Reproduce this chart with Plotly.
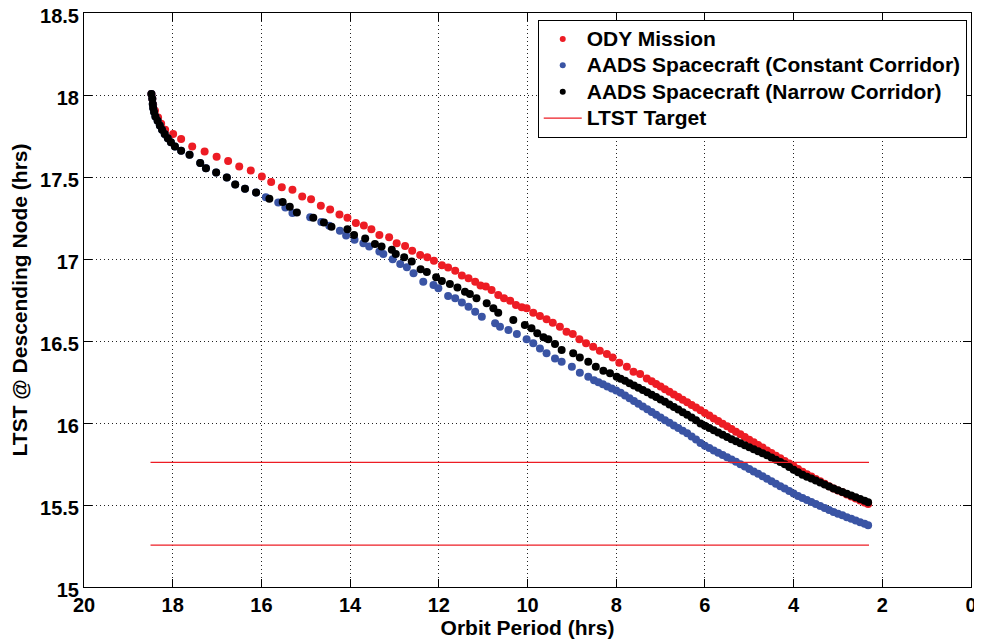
import plotly.graph_objects as go

# ---------------- data ----------------
period_ody = [18.48, 18.46, 18.44, 18.40, 18.33, 18.26, 18.17, 17.99, 17.81, 17.56,
              17.28, 17.01, 16.75, 16.50, 16.24, 15.99, 15.78, 15.54, 15.30, 15.08,
              14.88, 14.66, 14.45, 14.24, 14.06, 13.87, 13.69, 13.52, 13.34, 13.12,
              12.95, 12.76, 12.60, 12.42, 12.26, 12.11, 11.93, 11.79, 11.63, 11.48,
              11.33, 11.18, 11.06, 10.94, 10.81, 10.66, 10.53, 10.39, 10.26, 10.13,
              10.02, 9.87, 9.72, 9.57, 9.43, 9.27, 9.12, 8.98, 8.83, 8.68,
              8.52, 8.37, 8.21, 8.08, 7.93, 7.76, 7.61, 7.46, 7.31,
              7.2, 7.1, 7.0, 6.9, 6.8, 6.7, 6.6, 6.5, 6.4, 6.3, 6.2, 6.1, 6.0,
              5.9, 5.8, 5.7, 5.6, 5.5, 5.4, 5.3, 5.2, 5.1, 5.0, 4.9, 4.8, 4.7,
              4.6, 4.5, 4.4, 4.3, 4.2, 4.1, 4.0, 3.9, 3.8, 3.7, 3.6, 3.5, 3.4,
              3.3, 3.2, 3.1, 3.0, 2.9, 2.8, 2.7, 2.6, 2.5, 2.4, 2.32]
ltst_ody = [18.006, 17.977, 17.941, 17.904, 17.863, 17.825, 17.788, 17.762, 17.731, 17.686,
            17.656, 17.623, 17.597, 17.564, 17.540, 17.503, 17.469, 17.438, 17.422, 17.381,
            17.365, 17.324, 17.302, 17.271, 17.251, 17.219, 17.204, 17.181, 17.147, 17.133,
            17.096, 17.080, 17.051, 17.025, 17.011, 16.990, 16.962, 16.948, 16.929, 16.899,
            16.883, 16.862, 16.838, 16.832, 16.811, 16.781, 16.761, 16.746, 16.720, 16.706,
            16.700, 16.673, 16.653, 16.632, 16.612, 16.587, 16.557, 16.543, 16.510, 16.486,
            16.465, 16.441, 16.421, 16.400, 16.368, 16.343, 16.313, 16.299, 16.272,
            16.254, 16.238, 16.222, 16.206, 16.190, 16.174, 16.158, 16.142, 16.126, 16.110,
            16.094, 16.077, 16.061,
            16.045, 16.028, 16.012, 15.996, 15.980, 15.963, 15.947, 15.931, 15.915, 15.898,
            15.882, 15.866, 15.850,
            15.833, 15.817, 15.801, 15.785, 15.769, 15.753, 15.736, 15.719, 15.703, 15.688,
            15.674, 15.659, 15.645,
            15.630, 15.615, 15.601, 15.589, 15.577, 15.564, 15.552, 15.540, 15.528, 15.515, 15.506]

period_const = [18.48, 18.46, 18.45, 18.44, 18.42, 18.39, 18.34, 18.29, 18.24, 18.18,
                18.11, 18.04, 17.95, 17.81, 17.62, 17.38, 17.25, 17.02, 16.78, 16.59,
                16.37, 16.12, 15.90, 15.62, 15.46, 15.30, 14.90, 14.65, 14.47, 14.23,
                14.09, 13.90, 13.70, 13.57, 13.34, 13.25, 13.04, 12.87, 12.72, 12.57,
                12.35, 12.12, 12.01, 11.79, 11.63, 11.48, 11.33, 11.18, 11.03, 10.73,
                10.62, 10.43, 10.24, 10.02, 9.87, 9.72, 9.57, 9.38, 9.23, 9.00,
                8.82, 8.63,
                8.5, 8.4, 8.3, 8.2, 8.1, 8.0, 7.9, 7.8, 7.7, 7.6, 7.5, 7.4, 7.3,
                7.2, 7.1, 7.0, 6.9, 6.8, 6.7, 6.6, 6.5, 6.4, 6.3, 6.2, 6.1, 6.0,
                5.9, 5.8, 5.7, 5.6, 5.5, 5.4, 5.3, 5.2, 5.1, 5.0, 4.9, 4.8, 4.7,
                4.6, 4.5, 4.4, 4.3, 4.2, 4.1, 4.0, 3.9, 3.8, 3.7, 3.6, 3.5, 3.4,
                3.3, 3.2, 3.1, 3.0, 2.9, 2.8, 2.7, 2.6, 2.5, 2.4, 2.32]
ltst_const = [18.006, 17.977, 17.945, 17.921, 17.896, 17.869, 17.843, 17.814, 17.788, 17.762,
              17.737, 17.712, 17.686, 17.660, 17.636, 17.585, 17.554, 17.527, 17.497, 17.454,
              17.428, 17.405, 17.377, 17.344, 17.314, 17.280, 17.255, 17.225, 17.202, 17.173,
              17.143, 17.118, 17.096, 17.076, 17.045, 17.031, 16.999, 16.970, 16.950, 16.913,
              16.862, 16.842, 16.822, 16.775, 16.761, 16.734, 16.709, 16.679, 16.648, 16.608,
              16.587, 16.567, 16.543, 16.510, 16.486, 16.455, 16.425, 16.394, 16.374, 16.343,
              16.306, 16.282,
              16.261, 16.248, 16.236, 16.223, 16.210, 16.198, 16.184, 16.168, 16.151, 16.134,
              16.117, 16.101, 16.084,
              16.067, 16.050, 16.033, 16.017, 16.001, 15.985, 15.969, 15.953, 15.937, 15.917,
              15.899, 15.878, 15.862,
              15.847, 15.833, 15.819, 15.805, 15.791, 15.778, 15.764, 15.749, 15.734, 15.720,
              15.705, 15.690, 15.675,
              15.660, 15.645, 15.630, 15.615, 15.600, 15.585, 15.570, 15.555, 15.542, 15.530,
              15.518, 15.506, 15.494,
              15.482, 15.470, 15.458, 15.447, 15.437, 15.426, 15.416, 15.405, 15.395, 15.385, 15.377]

period_narrow = [18.48, 18.46, 18.45, 18.44, 18.42, 18.39, 18.34, 18.29, 18.24, 18.18,
                 18.11, 18.04, 17.95, 17.81, 17.62, 17.38, 17.25, 17.02, 16.78, 16.59,
                 16.37, 16.12, 15.82, 15.52, 15.36, 15.20, 14.83, 14.59, 14.42, 14.06,
                 13.91, 13.66, 13.44, 13.29, 13.06, 12.97, 12.78, 12.61, 12.41, 12.27,
                 12.06, 11.93, 11.75, 11.58, 11.41, 11.30, 11.15, 10.92, 10.77, 10.66,
                 10.32, 10.06, 9.91, 9.78, 9.64, 9.53, 9.38, 9.23, 8.97, 8.82,
                 8.63, 8.46, 8.29, 8.14, 7.99,
                 7.9, 7.8, 7.7, 7.6, 7.5, 7.4, 7.3,
                 7.2, 7.1, 7.0, 6.9, 6.8, 6.7, 6.6, 6.5, 6.4, 6.3, 6.2, 6.1, 6.0,
                 5.9, 5.8, 5.7, 5.6, 5.5, 5.4, 5.3, 5.2, 5.1, 5.0, 4.9, 4.8, 4.7,
                 4.6, 4.5, 4.4, 4.3, 4.2, 4.1, 4.0, 3.9, 3.8, 3.7, 3.6, 3.5, 3.4,
                 3.3, 3.2, 3.1, 3.0, 2.9, 2.8, 2.7, 2.6, 2.5, 2.4, 2.32]
ltst_narrow = [18.006, 17.977, 17.945, 17.921, 17.896, 17.869, 17.843, 17.814, 17.788, 17.762,
               17.737, 17.712, 17.686, 17.660, 17.636, 17.585, 17.554, 17.527, 17.497, 17.454,
               17.428, 17.405, 17.367, 17.347, 17.318, 17.283, 17.251, 17.222, 17.196, 17.182,
               17.147, 17.125, 17.092, 17.076, 17.056, 17.031, 17.011, 16.984, 16.938, 16.921,
               16.889, 16.866, 16.848, 16.826, 16.801, 16.787, 16.761, 16.730, 16.700, 16.673,
               16.628, 16.598, 16.578, 16.547, 16.523, 16.510, 16.482, 16.445, 16.425, 16.400,
               16.374, 16.343, 16.319, 16.303, 16.282,
               16.270, 16.257, 16.243, 16.229, 16.215, 16.201, 16.187,
               16.173, 16.159, 16.144, 16.129, 16.113, 16.097, 16.082, 16.066, 16.050, 16.034,
               16.017, 15.997, 15.983,
               15.970, 15.956, 15.942, 15.929, 15.915, 15.901, 15.889, 15.876, 15.864, 15.852,
               15.840, 15.827, 15.815,
               15.803, 15.789, 15.776, 15.762, 15.748, 15.732, 15.715, 15.699, 15.685, 15.673,
               15.661, 15.649, 15.637,
               15.625, 15.613, 15.601, 15.590, 15.579, 15.569, 15.558, 15.547, 15.536, 15.526, 15.517]

target_period = [18.5, 2.3]
target_ltst = [15.76, 15.255]

x_ticks = [20, 18, 16, 14, 12, 10, 8, 6, 4, 2, 0]
y_ticks = [15, 15.5, 16, 16.5, 17, 17.5, 18, 18.5]

series_names = ["ODY Mission",
                "AADS Spacecraft (Constant Corridor)",
                "AADS Spacecraft (Narrow Corridor)",
                "LTST Target"]

# ---------------- styling ----------------
RED = "#ED1C24"
BLUE = "#3A54A4"
BLACK = "#000000"
FONT = "Liberation Sans, Arial, Helvetica, sans-serif"


def legend_label(text):
    # text drawn at 21px while the legend row spacing follows an 18px base size
    return '<span style="font-size:21px">' + text + '</span>'


fig = go.Figure()

for xs, ys, color in [(period_ody, ltst_ody, RED),
                      (period_const, ltst_const, BLUE),
                      (period_narrow, ltst_narrow, BLACK)]:
    fig.add_trace(go.Scatter(x=xs, y=ys, mode="markers",
                             marker=dict(size=8, color=color, line=dict(width=0)),
                             showlegend=False, hoverinfo="skip"))

# target lines
tx, ty = [], []
for level in target_ltst:
    tx += [target_period[0], target_period[1], None]
    ty += [level, level, None]
fig.add_trace(go.Scatter(x=tx, y=ty, mode="lines",
                         line=dict(color=RED, width=1.3),
                         showlegend=False, hoverinfo="skip"))

# legend entries
for name, color in zip(series_names[:3], [RED, BLUE, BLACK]):
    fig.add_trace(go.Scatter(x=[None], y=[None], mode="markers", name=legend_label(name),
                             marker=dict(size=6, color=color)))
fig.add_trace(go.Scatter(x=[None], y=[None], mode="lines", name=legend_label(series_names[3]),
                         line=dict(color=RED, width=1.3)))

axis_common = dict(
    automargin=False,
    showline=True, linecolor=BLACK, linewidth=1, mirror="ticks",
    ticks="inside", ticklen=8, tickcolor=BLACK, tickwidth=1,
    showgrid=True, gridcolor="#222222", gridwidth=1, griddash="1px,3px",
    zeroline=False, ticklabeloverflow="allow",
    tickfont=dict(family=FONT, size=20, color=BLACK, weight="bold"),
)

# the page body adds an 8px offset, so the figure is slightly smaller than the window
fig.update_layout(
    width=974, height=632,
    margin=dict(l=76, r=11, t=5, b=53),
    paper_bgcolor="white", plot_bgcolor="white",
    font=dict(family=FONT, color=BLACK),
    xaxis=dict(range=[20, 0], tickvals=x_ticks,
               title=dict(text="Orbit Period (hrs)", standoff=0,
                          font=dict(family=FONT, size=21, color=BLACK, weight="bold")),
               **axis_common),
    yaxis=dict(range=[15, 18.5], tickvals=y_ticks, ticklabelshift=3,
               title=dict(text="LTST @ Descending Node (hrs)", standoff=6,
                          font=dict(family=FONT, size=21, color=BLACK, weight="bold")),
               **axis_common),
    legend=dict(x=0.9952, y=0.9883, xanchor="right", yanchor="top",
                bgcolor="white", bordercolor=BLACK, borderwidth=1,
                itemwidth=38,
                font=dict(family=FONT, size=18, color=BLACK, weight="bold"),
                tracegroupgap=0),
    showlegend=True,
)

fig.write_html("out.html")
